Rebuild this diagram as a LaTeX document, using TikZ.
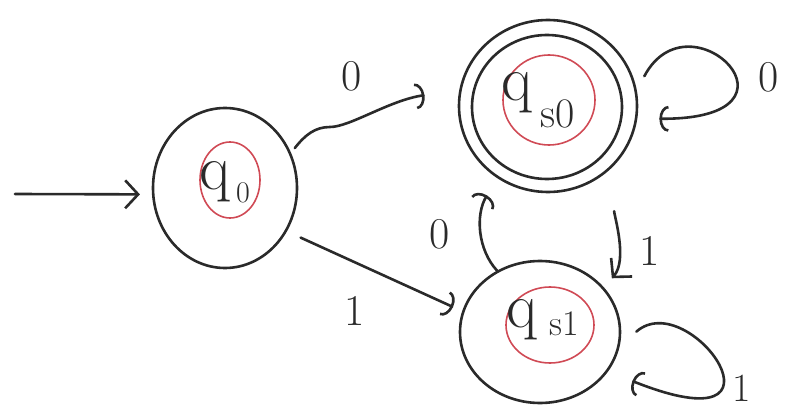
\documentclass[tikz,border=0pt]{standalone}
\usetikzlibrary{shapes.geometric,arrows.meta}
\definecolor{ink}{HTML}{2A2A2A}
\definecolor{redink}{HTML}{D04A55}
\begin{document}
\begin{tikzpicture}[x=1pt,y=-1pt,
  pen/.style={line width=2.6pt, draw=ink, line cap=round, line join=round},
  stateout/.style={ellipse, pen, inner sep=0pt},
  redring/.style={ellipse, draw=redink, line width=1.6pt, inner sep=0pt},
  qtxt/.style={font=\fontsize{64}{64}\selectfont, text=ink, inner sep=0pt},
  lbl/.style={font=\fontsize{44}{44}\selectfont, text=ink, inner sep=0pt},
  hook/.style={pen, -{Arc Barb[length=9pt,width=26pt,line width=2.6pt]}},
  barb/.style={pen, -{Straight Barb[length=13pt,width=28pt,line width=2.6pt]}}]
\useasboundingbox (0,0) rectangle (788,415);

% states
\node[stateout, minimum width=144pt, minimum height=160pt] (q0) at (225,188) {};
\node[redring, minimum width=60pt, minimum height=76pt] (r0) at (230,180) {};
\node[qtxt, anchor=base west] (l0) at (199,189) {q\hspace{6pt}\raisebox{-13pt}{\fontsize{30}{30}\selectfont 0}};

\node[stateout, minimum width=178pt, minimum height=172pt] (s0) at (548,106) {};
\node[stateout, minimum width=150pt, minimum height=144pt] (s0in) at (547,107) {};
\node[redring, minimum width=92pt, minimum height=90pt] (r1) at (549,100) {};
\node[qtxt, anchor=base west] (l1) at (501,100) {q\hspace{8pt}\raisebox{-27pt}{\fontsize{42}{42}\selectfont s0}};

\node[stateout, minimum width=160pt, minimum height=142pt] (s1) at (540,332) {};
\node[redring, minimum width=88pt, minimum height=76pt] (r2) at (550,325) {};
\node[qtxt, anchor=base west] (l2) at (506,327) {q\hspace{12pt}\raisebox{-8pt}{\fontsize{36}{36}\selectfont s1}};

% start arrow
\coordinate (start) at (15,194);
\draw[barb, shorten >=12pt] (start) -- (q0.185);

% q0 -> qs0
\draw[hook, shorten <=6pt, shorten >=35pt] (q0.28) .. controls (305,135) and (315,127) .. (330,127)
   .. controls (350,127) and (390,100) .. (s0.170);
\node[lbl] (e1) at (352,76) {0};

% q0 -> qs1
\draw[hook, shorten <=15pt, shorten >=10pt] (q0.-35) -- (s1.165);
\node[lbl] (e2) at (355,311) {1};

% qs1 -> qs0
\draw[hook, shorten >=20pt] (s1.125) .. controls (478,250) and (475,215) .. (s0.235);
\node[lbl] (e3) at (440,234) {0};

% qs0 -> qs1
\draw[barb, shorten <=48pt, shorten >=12pt] (s0.-40) .. controls (614,215) and (628,260) .. (s1.35);
\node[lbl] (e4) at (650,251) {1};

% self loops
\draw[hook, shorten <=16pt, shorten >=22pt] (s0.10) .. controls (690,-10) and (820,120) .. (s0.-8);
\node[lbl] (e5) at (769,77) {0};

\draw[hook, shorten <=22pt, shorten >=26pt] (s1.-10) .. controls (690,285) and (805,450) .. (s1.-30);
\node[lbl, font=\fontsize{40}{40}\selectfont] (e6) at (742,388) {1};
\end{tikzpicture}
\end{document}
